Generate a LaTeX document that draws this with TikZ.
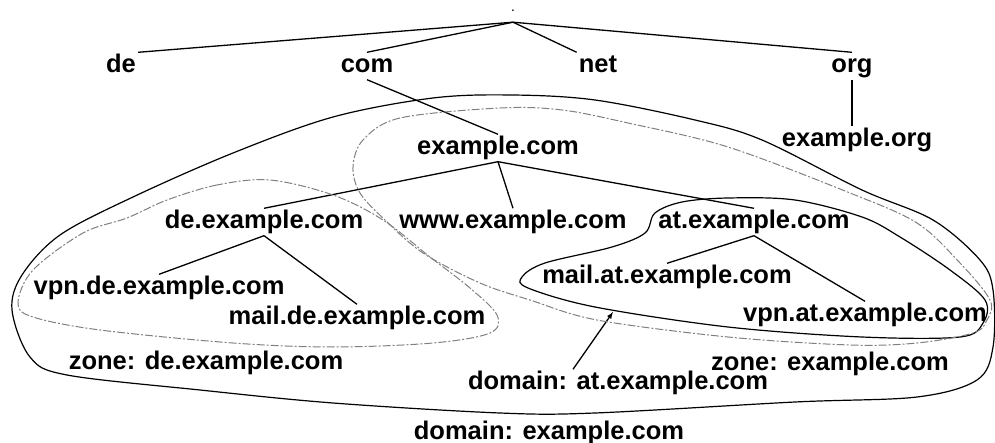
\documentclass[tikz,border=0pt]{standalone}
\usepackage{fontspec}
\setmainfont{Liberation Sans}
\usetikzlibrary{arrows}

\begin{document}
\begin{tikzpicture}[x=1pt, y=-1pt,
    every node/.style={font=\bfseries\fontsize{25.5}{28}\selectfont,
      inner sep=2pt, text height=18pt, text depth=5pt},
    edge/.style={line width=1.3pt},
    domainline/.style={line width=1.2pt},
    zoneline/.style={gray, line width=1pt,
      dash pattern=on 8pt off 2pt on 2pt off 2pt}]
    \useasboundingbox (0,0) rectangle (995,443);
    \node [font=\bfseries\fontsize{10}{12}\selectfont, text height=3pt,
      text depth=8pt] (0) at (513,14.5) {.};
    \node (1) at (121,66) {de};
    \node (2) at (367,66) {com};
    \node (3) at (598,66) {net};
    \node (4) at (852,66) {org};
    \node (5) at (498,148) {example.com};
    \node (6) at (857,140) {example.org};
    \node (7) at (264,222) {de.example.com};
    \node (8) at (513,222) {www.example.com};
    \node (9) at (754,222) {at.example.com};
    \node (10) at (159,288) {vpn.de.example.com};
    \node (11) at (357,318) {mail.de.example.com};
    \node (12) at (667,277) {mail.at.example.com};
    \node (13) at (865,315) {vpn.at.example.com};
    \node (14) at (206,363) {zone: de.example.com};
    \node (15) at (830,364) {zone: example.com};
    \node (16) at (618,383) {domain: at.example.com};
    \node (17) at (549,433) {domain: example.com};
    \coordinate (18) at (613,312);
    \draw [edge] (0.south) to (1.north east);
    \draw [edge] (0.south) to (2.north);
    \draw [edge] (0.south) to (3.north west);
    \draw [edge] (0.south) to (4.north);
    \draw [edge] (2.south) to (5.north);
    \draw [edge] (4.south) to (4.south |- 6.north);
    \draw [edge] (5.south) to (7.north);
    \draw [edge] (5.south) to (8.north);
    \draw [edge] (5.south) to (9.north);
    \draw [edge] (7.south) to (10.north);
    \draw [edge] (7.south) to (11.north);
    \draw [edge] (9.south) to (12.north);
    \draw [edge] (9.south) to (13.north);
    \draw [edge, -latex] ([xshift=-45pt]16.north) to (18);
    \draw [domainline] plot [smooth cycle, tension=0.55] coordinates {
      (512,95) (433,98) (333,117) (233,153) (133,197) (60,235) (22,275)
      (12,310) (30,357) (67,375) (200,390) (333,403) (500,413) (595,413)
      (795,402) (917,397) (977,380) (993,347) (993,290) (980,260)
      (933,220) (862,190) (762,140) (695,120) (595,100)};
    \draw [domainline] plot [smooth cycle, tension=0.55] coordinates {
      (655,213) (682,202) (728,198) (795,200) (862,217) (900,237)
      (950,270) (985,300) (983,323) (960,337) (862,337) (728,327)
      (595,307) (528,288) (522,277) (545,263) (612,247) (645,233)};
    \draw [zoneline] plot [smooth cycle, tension=0.55] coordinates {
      (500,108) (400,118) (363,140) (353,167) (360,193) (385,220)
      (423,253) (480,283) (530,300) (597,320) (728,337) (850,345)
      (917,343) (973,333) (987,320) (990,300) (960,263) (917,223)
      (850,193) (728,147) (628,123) (562,110)};
    \draw [zoneline] plot [smooth cycle, tension=0.55] coordinates {
      (270,180) (217,185) (167,200) (127,218) (83,233) (33,270) (18,303)
      (33,317) (100,330) (233,343) (333,347) (433,343) (490,333)
      (497,315) (470,288) (430,257) (383,220) (333,195)};
\end{tikzpicture}
\end{document}
